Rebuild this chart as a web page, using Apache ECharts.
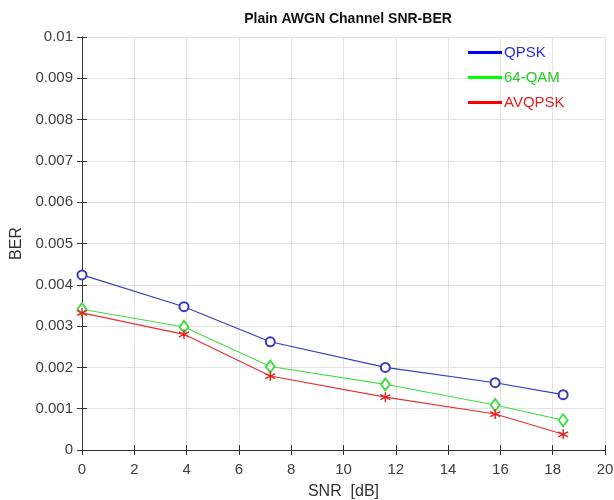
<!DOCTYPE html>
<html>
<head>
<meta charset="utf-8">
<script src="https://cdn.jsdelivr.net/npm/echarts@6/dist/echarts.min.js"></script>
<style>
  html, body { margin: 0; padding: 0; background: #fff; }
  #main { width: 614px; height: 500px; }
</style>
</head>
<body>
<div id="main"></div>
<script>
// SNR points (dB)
var snr = [0, 3.9, 7.2, 11.6, 15.8, 18.4];
// BER per scheme
var qpsk   = [0.00424, 0.00347, 0.00262, 0.00200, 0.00163, 0.00134];
var qam64  = [0.00341, 0.00298, 0.00202, 0.00159, 0.00109, 0.00072];
var avqpsk = [0.00332, 0.00280, 0.00179, 0.00128, 0.00087, 0.00038];
var names  = ['QPSK', '64-QAM', 'AVQPSK'];

var font = 'Liberation Sans, Arial, sans-serif';
var star = 'path://M0,-5L0,5M-4.33,-2.5L4.33,2.5M-4.33,2.5L4.33,-2.5';

function pairs(xs, ys) {
    var out = [];
    for (var i = 0; i < xs.length; i++) out.push([xs[i], ys[i]]);
    return out;
}

var chart = echarts.init(document.getElementById('main'));

// matlab like box: dark frame, ticks pointing in
var lineCol = '#333';
var axisLbl = { color: '#404040', fontFamily: font, fontSize: 15 };
var tickIn = { show: true, inside: true, length: 5, lineStyle: { color: lineCol } };

chart.setOption({
    backgroundColor: '#fff',
    animation: false,
    title: {
        text: 'Plain AWGN Channel SNR-BER',
        left: 343, textAlign: 'center', top: 7,
        textStyle: { fontFamily: font, fontSize: 14, fontWeight: 'bold', color: '#111' }
    },
    legend: {
        orient: 'vertical',
        left: 463, top: 40,
        itemWidth: 34, itemHeight: 3, itemGap: 10,
        icon: 'rect',
        itemStyle: { borderWidth: 0 },
        textStyle: { fontFamily: font, fontSize: 15, padding: [0, 0, 0, -3] },
        data: [
            { name: names[0], textStyle: { color: '#2a2ae0' }, itemStyle: { color: '#0000ff', borderWidth: 0 } },
            { name: names[1], textStyle: { color: '#22cc22' }, itemStyle: { color: '#00ff00', borderWidth: 0 } },
            { name: names[2], textStyle: { color: '#e02020' }, itemStyle: { color: '#ff0000', borderWidth: 0 } }
        ]
    },
    grid: { left: 82, right: 9, top: 37, bottom: 50, outerBoundsMode: 'none', containLabel: false },
    xAxis: [{
        type: 'value', min: 0, max: 20, interval: 2,
        name: 'SNR  [dB]', nameLocation: 'middle', nameGap: 34,
        nameTextStyle: { fontFamily: font, fontSize: 16, color: '#333' },
        axisLine: { lineStyle: { color: lineCol, width: 1 } },
        axisTick: tickIn,
        axisLabel: Object.assign({ margin: 12 }, axisLbl),
        splitLine: { show: true, lineStyle: { color: '#e3e3e3', width: 1 } }
    }, {
        type: 'value', min: 0, max: 20, interval: 2, position: 'top',
        axisLine: { show: true, lineStyle: { color: lineCol, width: 1 } },
        axisTick: tickIn,
        axisLabel: { show: false },
        splitLine: { show: false }
    }],
    yAxis: [{
        type: 'value', min: 0, max: 0.01, interval: 0.001,
        name: 'BER', nameLocation: 'middle', nameGap: 57, nameRotate: 90,
        nameTextStyle: { fontFamily: font, fontSize: 16, color: '#333' },
        axisLine: { show: true, lineStyle: { color: lineCol, width: 1 } },
        axisTick: tickIn,
        axisLabel: Object.assign({
            margin: 9,
            formatter: function (v) { return String(Number(v.toFixed(4))); }
        }, axisLbl),
        splitLine: { show: true, lineStyle: { color: '#e3e3e3', width: 1 } }
    }, {
        type: 'value', min: 0, max: 0.01, interval: 0.001, position: 'right',
        axisLine: { show: true, lineStyle: { color: lineCol, width: 1 } },
        axisTick: tickIn,
        axisLabel: { show: false },
        splitLine: { show: false }
    }],
    series: [{
        name: names[0], type: 'line', data: pairs(snr, qpsk),
        symbol: 'emptyCircle', symbolSize: 9,
        lineStyle: { color: '#3a3ac0', width: 1.1 },
        itemStyle: { color: '#3a3ac0', borderWidth: 1.1 }
    }, {
        name: names[1], type: 'line', data: pairs(snr, qam64),
        symbol: 'emptyDiamond', symbolSize: [9, 12],
        lineStyle: { color: '#44dd44', width: 1.1 },
        itemStyle: { color: '#44dd44', borderWidth: 1.1 }
    }, {
        name: names[2], type: 'line', data: pairs(snr, avqpsk),
        symbol: star, symbolSize: 10,
        lineStyle: { color: '#e83030', width: 1.1 },
        itemStyle: { color: 'none', borderColor: '#e82020', borderWidth: 1.4 }
    }]
});
</script>
</body>
</html>
